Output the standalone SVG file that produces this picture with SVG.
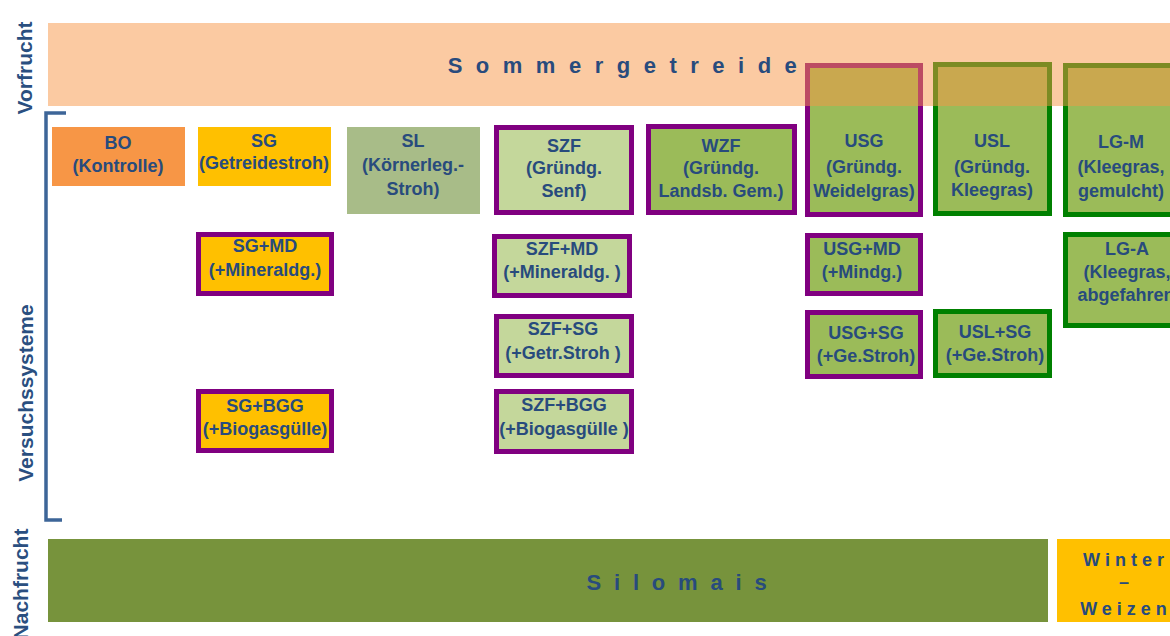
<svg xmlns="http://www.w3.org/2000/svg" width="1170" height="636" viewBox="0 0 1170 636">
<style>
.t{font-family:"Liberation Sans",Arial,sans-serif;font-weight:bold;font-size:18px;fill:#284B7D;text-anchor:middle}
.lab{font-family:"Liberation Sans",Arial,sans-serif;font-weight:bold;font-size:21px;fill:#2A4F80;text-anchor:middle}
.big{font-family:"Liberation Sans",Arial,sans-serif;font-weight:bold;font-size:22px;fill:#284B7D;text-anchor:middle}
.pb{stroke:#800080;stroke-width:5}
.gb{stroke:#008000;stroke-width:5}
.lg{fill:#C4D79B}
.dg{fill:#9BBB59}
.yl{fill:#FFC000}
</style>
<rect width="1170" height="636" fill="#FFFFFF"/>
<g id="labels">
<text class="lab" transform="translate(32,68) rotate(-90)">Vorfrucht</text>
<text class="lab" transform="translate(33,393) rotate(-90)">Versuchssysteme</text>
<text class="lab" transform="translate(28,584) rotate(-90)">Nachfrucht</text>
</g>
<g id="bracket">
<path d="M66,113 H46 V520 H62" fill="none" stroke="#3D6598" stroke-width="3.5"/>
</g>
<g id="BO"><rect x="52" y="127" width="133" height="59" fill="#F79646"/><text class="t" x="118" y="149">BO</text><text class="t" x="118" y="172">(Kontrolle)</text></g>
<g id="SG"><rect x="198" y="127" width="133" height="59" class="yl"/><text class="t" x="264" y="147">SG</text><text class="t" x="264" y="169">(Getreidestroh)</text></g>
<g id="SL"><rect x="347" y="127" width="133" height="87" fill="#A8BC88"/><text class="t" x="413" y="147">SL</text><text class="t" x="413" y="171">(Körnerleg.-</text><text class="t" x="413" y="195">Stroh)</text></g>
<g id="SZF"><rect x="496.5" y="127.5" width="135" height="85" class="lg pb"/><text class="t" x="564" y="152">SZF</text><text class="t" x="564" y="174">(Gründg.</text><text class="t" x="564" y="197">Senf)</text></g>
<g id="WZF"><rect x="648.5" y="126.5" width="146" height="86" class="dg pb"/><text class="t" x="721" y="152">WZF</text><text class="t" x="721" y="174">(Gründg.</text><text class="t" x="721" y="197">Landsb. Gem.)</text></g>
<g id="USG"><rect x="807.5" y="65.5" width="113" height="149" class="dg pb"/><text class="t" x="864" y="147">USG</text><text class="t" x="864" y="173">(Gründg.</text><text class="t" x="864" y="197">Weidelgras)</text></g>
<g id="USL"><rect x="935.5" y="64.5" width="114" height="149" class="dg gb"/><text class="t" x="992" y="147">USL</text><text class="t" x="992" y="173">(Gründg.</text><text class="t" x="992" y="196">Kleegras)</text></g>
<g id="LG-M"><rect x="1065.5" y="65.5" width="120" height="149" class="dg gb"/><text class="t" x="1121" y="148">LG-M</text><text class="t" x="1121" y="173">(Kleegras,</text><text class="t" x="1121" y="197">gemulcht)</text></g>
<g id="SG-MD"><rect x="198.5" y="234.5" width="133" height="59" class="yl pb"/><text class="t" x="265" y="252">SG+MD</text><text class="t" x="265" y="276">(+Mineraldg.)</text></g>
<g id="SZF-MD"><rect x="494.5" y="236.5" width="135" height="59" class="lg pb"/><text class="t" x="562" y="255">SZF+MD</text><text class="t" x="562" y="278">(+Mineraldg. )</text></g>
<g id="USG-MD"><rect x="807.5" y="235.5" width="113" height="58" class="dg pb"/><text class="t" x="862" y="255">USG+MD</text><text class="t" x="862" y="278">(+Mindg.)</text></g>
<g id="LG-A"><rect x="1065.5" y="234.5" width="120" height="91" class="dg gb"/><text class="t" x="1127" y="255">LG-A</text><text class="t" x="1127" y="278">(Kleegras,</text><text class="t" x="1129" y="301">abgefahren)</text></g>
<g id="SZF-SG"><rect x="496.5" y="316.5" width="135" height="59" class="lg pb"/><text class="t" x="563" y="335">SZF+SG</text><text class="t" x="563" y="359">(+Getr.Stroh )</text></g>
<g id="USG-SG"><rect x="807.5" y="312.5" width="113" height="64" class="dg pb"/><text class="t" x="866" y="339">USG+SG</text><text class="t" x="866" y="362">(+Ge.Stroh)</text></g>
<g id="USL-SG"><rect x="935.5" y="311.5" width="114" height="64" class="dg gb"/><text class="t" x="995" y="338">USL+SG</text><text class="t" x="995" y="361">(+Ge.Stroh)</text></g>
<g id="SG-BGG"><rect x="198.5" y="391.5" width="133" height="59" class="yl pb"/><text class="t" x="265" y="412">SG+BGG</text><text class="t" x="265" y="435">(+Biogasgülle)</text></g>
<g id="SZF-BGG"><rect x="496.5" y="391.5" width="135" height="60" class="lg pb"/><text class="t" x="564" y="411">SZF+BGG</text><text class="t" x="564" y="435">(+Biogasgülle )</text></g>
<g id="Vorfrucht-band">
<rect x="48" y="23" width="1130" height="83" fill="#F79646" fill-opacity="0.5"/>
<text class="big" x="629" y="73" letter-spacing="13.5">Sommergetreide</text>
</g>
<g id="Silomais"><rect x="48" y="539" width="1000" height="83" fill="#77933C"/><text class="big" x="683" y="590" letter-spacing="12.8">Silomais</text></g>
<g id="Winterweizen"><rect x="1057" y="539" width="120" height="83" class="yl"/>
<text class="t" x="1126" y="566" letter-spacing="5">Winter</text>
<text class="t" x="1124" y="588">–</text>
<text class="t" x="1126" y="615" letter-spacing="5">Weizen</text></g>
<g id="connectors"></g>
</svg>
